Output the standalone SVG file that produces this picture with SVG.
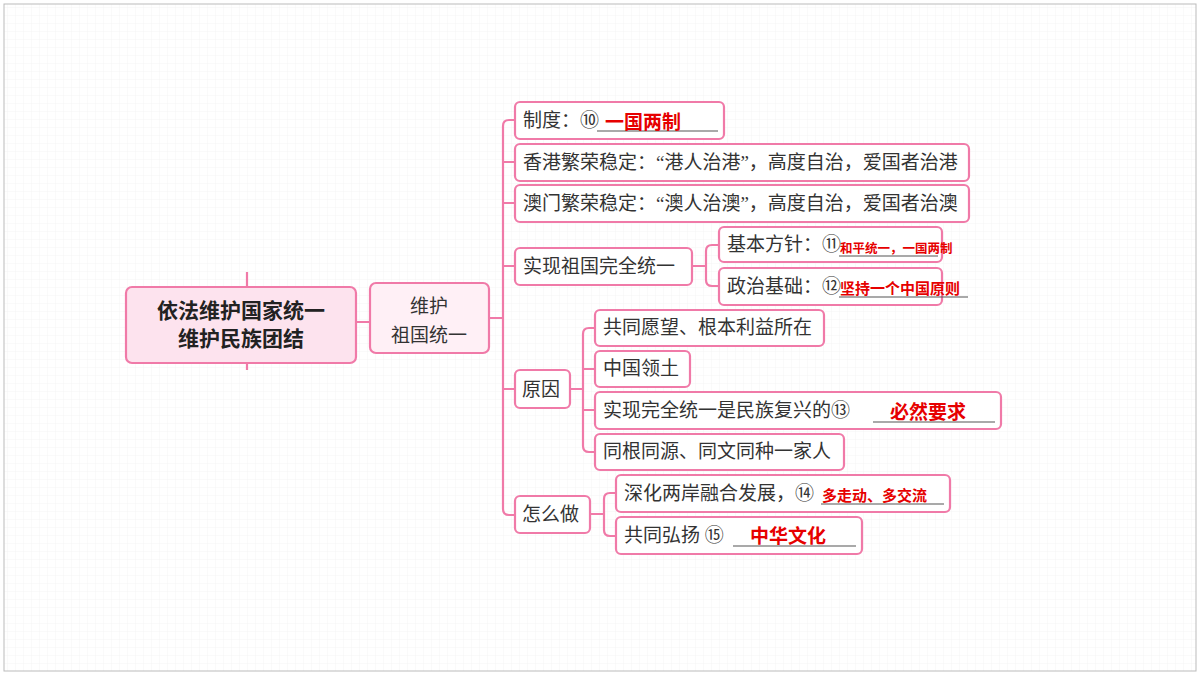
<svg xmlns="http://www.w3.org/2000/svg" width="1200" height="675" viewBox="0 0 1200 675">
<defs>
<pattern id="g" width="8" height="8" patternUnits="userSpaceOnUse"><path d="M8 0V8H0" fill="none" stroke="#eeeeee" stroke-width="0.6"/></pattern>
<style>
.n{fill:#fff;stroke:#f07aa8;stroke-width:2.2}
.t{font-family:"Liberation Serif","Noto Sans CJK SC",serif;font-size:19px;fill:#333}
.r{font-family:"Noto Sans CJK SC",sans-serif;font-weight:bold;fill:#e60000}
.u{stroke:#555;stroke-width:1.2}
.c{fill:none;stroke:#f07aa8;stroke-width:2.2}
</style>
</defs>
<rect width="1200" height="675" fill="#fff"/>
<rect x="4" y="4" width="1192" height="667" fill="url(#g)" stroke="#bbb" stroke-width="1"/>
<g id="connectors">
<path class="c" d="M247 272V287M247 363V370M356 322H370M489 318H503"/>
<path class="c" d="M515 120H509Q503 120 503 126V509Q503 515 509 515H515M503 162H515M503 203H515M503 266H515M503 389H515"/>
<path class="c" d="M692 266H706M719 245H712Q706 245 706 251V280Q706 286 712 286H719"/>
<path class="c" d="M570 389H583M595 328H589Q583 328 583 334V446Q583 452 589 452H595M583 369H595M583 410H595"/>
<path class="c" d="M590 514H604M616 493H610Q604 493 604 499V530Q604 536 610 536H616"/>
</g>
<g id="root"><rect x="126" y="287" width="230" height="76" rx="6" fill="#fde3ee" stroke="#f07aa8" stroke-width="2.2"/>
<text x="241" y="318" text-anchor="middle" font-family="Noto Sans CJK SC,sans-serif" font-size="21" font-weight="bold" fill="#222">依法维护国家统一</text>
<text x="241" y="346" text-anchor="middle" font-family="Noto Sans CJK SC,sans-serif" font-size="21" font-weight="bold" fill="#222">维护民族团结</text></g>
<g id="n2"><rect x="370" y="283" width="119" height="70" rx="6" fill="#fff0f6" stroke="#f07aa8" stroke-width="2.2"/>
<text x="429" y="313" text-anchor="middle" class="t" font-size="21">维护</text>
<text x="429" y="342" text-anchor="middle" class="t" font-size="21">祖国统一</text></g>
<g id="zd"><rect class="n" x="515" y="102" width="209" height="37" rx="5"/><text class="t" x="523" y="127">制度：⑩</text><line class="u" x1="597" y1="131" x2="718" y2="131"/><text class="r" x="605" y="129" font-size="19">一国两制</text></g>
<g id="xg"><rect class="n" x="515" y="144" width="454" height="37" rx="5"/><text class="t" x="523" y="169">香港繁荣稳定：“港人治港”，高度自治，爱国者治港</text></g>
<g id="am"><rect class="n" x="515" y="185" width="454" height="37" rx="5"/><text class="t" x="523" y="210">澳门繁荣稳定：“澳人治澳”，高度自治，爱国者治澳</text></g>
<g id="sx"><rect class="n" x="515" y="248" width="177" height="37" rx="5"/><text class="t" x="523" y="273">实现祖国完全统一</text></g>
<g id="jb"><rect class="n" x="719" y="227" width="223" height="35" rx="5"/><text class="t" x="727" y="251">基本方针：⑪</text><line class="u" x1="839" y1="256" x2="938" y2="256"/><text class="r" x="840" y="253" font-size="12.5">和平统一，一国两制</text></g>
<g id="zz"><rect class="n" x="719" y="268" width="223" height="37" rx="5"/><text class="t" x="727" y="293">政治基础：⑫</text><line class="u" x1="839" y1="297" x2="968" y2="297"/><text class="r" x="840" y="294" font-size="15">坚持一个中国原则</text></g>
<g id="yy"><rect class="n" x="515" y="370" width="55" height="38" rx="5"/><text class="t" x="522" y="396">原因</text></g>
<g id="y1"><rect class="n" x="595" y="310" width="229" height="36" rx="5"/><text class="t" x="603" y="334">共同愿望、根本利益所在</text></g>
<g id="y2"><rect class="n" x="595" y="351" width="95" height="36" rx="5"/><text class="t" x="603" y="375">中国领土</text></g>
<g id="y3"><rect class="n" x="595" y="392" width="406" height="37" rx="5"/><text class="t" x="603" y="417">实现完全统一是民族复兴的⑬</text><line class="u" x1="873" y1="422" x2="995" y2="422"/><text class="r" x="890" y="419" font-size="19">必然要求</text></g>
<g id="y4"><rect class="n" x="595" y="434" width="249" height="36" rx="5"/><text class="t" x="603" y="458">同根同源、同文同种一家人</text></g>
<g id="zm"><rect class="n" x="515" y="496" width="75" height="37" rx="5"/><text class="t" x="522" y="521">怎么做</text></g>
<g id="z1"><rect class="n" x="616" y="475" width="334" height="37" rx="5"/><text class="t" x="624" y="500">深化两岸融合发展，⑭</text><line class="u" x1="821" y1="504" x2="944" y2="504"/><text class="r" x="822" y="501" font-size="15">多走动、多交流</text></g>
<g id="z2"><rect class="n" x="616" y="517" width="246" height="37" rx="5"/><text class="t" x="624" y="542">共同弘扬 ⑮</text><line class="u" x1="733" y1="546" x2="856" y2="546"/><text class="r" x="750" y="543" font-size="19">中华文化</text></g>
</svg>
